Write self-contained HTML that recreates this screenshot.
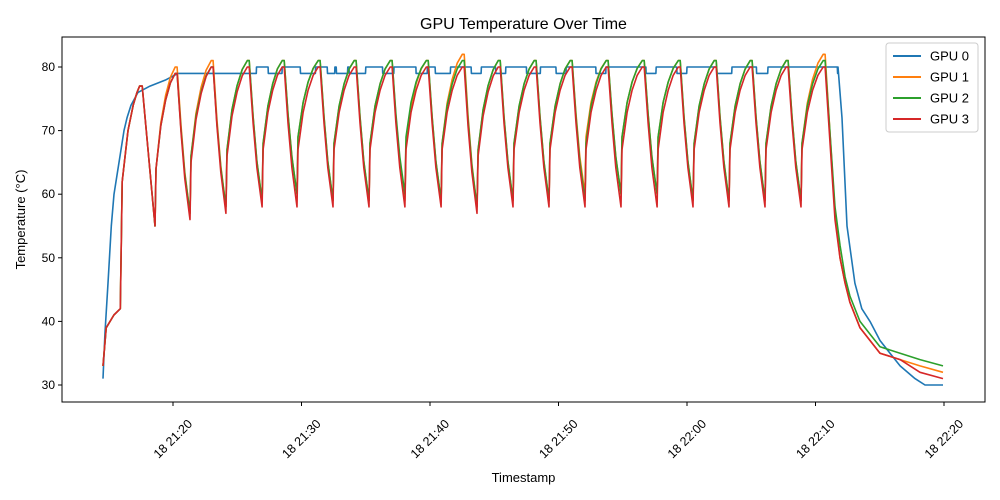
<!DOCTYPE html>
<html><head><meta charset="utf-8">
<style>
body{margin:0;background:#fff;}
svg{display:block;font-family:"Liberation Sans","DejaVu Sans",sans-serif;}
</style></head>
<body>
<svg id="chart" width="1000" height="500" viewBox="0 0 1000 500">
<rect x="0" y="0" width="1000" height="500" fill="#fff"/>
<text x="523.5" y="29" text-anchor="middle" font-size="16">GPU Temperature Over Time</text>
<g id="plot"></g>
<text x="523.5" y="482" text-anchor="middle" font-size="13">Timestamp</text>
<text x="25" y="219.5" text-anchor="middle" font-size="13" transform="rotate(-90 25 219.5)">Temperature (°C)</text>
</svg>
<script>
// ---- data (minutes after 21:00) ----
const seriesNames = ["GPU 0","GPU 1","GPU 2","GPU 3"];
const seriesColors = ["#1f77b4","#ff7f0e","#2ca02c","#d62728"];
const yTicks = [30,40,50,60,70,80];
const xTickMinutes = [20,30,40,50,60,70,80];
const xTickLabels = ["18 21:20","18 21:30","18 21:40","18 21:50","18 22:00","18 22:10","18 22:20"];

const gpu0Start = [[14.55,31],[14.7,38],[14.94,46],[15.2,55],[15.41,60],[15.64,63],[15.95,67],[16.19,70],[16.42,72],[16.73,74],[17.28,76],[18.21,77],[19.46,78],[20.39,79]];
const gpu0HighSegments = [[26.5,27.4],[28.5,29.9],[31.1,32.0],[32.6,32.7],[33.6,33.7],[35.0,36.3],[37.2,38.9],[39.8,40.4],[41.6,43.2],[44.0,45.1],[45.9,47.5],[48.6,49.8],[50.6,52.9],[53.7,56.8],[57.6,59.2],[60.0,62.3],[63.5,65.4],[66.3,71.7]];
const gpu0End = [[71.75,80],[72.06,72],[72.45,55],[73.07,46],[73.6,42],[74.24,40],[75.02,37],[75.8,35],[76.58,33],[77.74,31],[78.52,30],[79.92,30]];

const initStart = [[14.55,33],[14.8,39],[15.4,41],[15.9,42],[16.05,62],[16.5,70],[16.9,74],[17.2,76],[17.4,77],[17.6,77]];
const troughTimes = [18.6,21.32,24.12,26.93,29.65,32.45,35.25,38.05,40.86,43.66,46.46,49.26,52.06,54.86,57.67,60.47,63.27,66.07,68.87];
const finalPeakTime = 70.6;
const troughVals = [
  null,
  [55,57,58,59,60,59,59,59,59,58,59,59,60,60,60,59,59,59,59],
  [55,57,58,59,60,59,59,60,59,58,59,59,59,60,60,59,59,59,59],
  [55,56,57,58,58,58,58,58,58,57,58,58,58,58,58,58,58,58,58]
];
const peakVals = [
  null,
  [80,81,81,81,81,81,81,81,82,81,81,81,81,81,81,81,81,81,82],
  [79,80,81,81,81,81,81,81,81,81,81,81,81,81,81,81,81,81,81],
  [79,80,80,80,80,80,80,80,80,80,80,80,80,80,80,80,80,80,80]
];
const coolTimes = [71.52,71.91,72.3,72.68,73.46,74.24,75.02,76.58,78.13,79.92];
const coolVals = [
  null,
  [57,50,46,43,39,37,35,34,33,32],
  [58,52,47,44,40,38,36,35,34,33],
  [56,50,46,43,39,37,35,34,32,31]
];

// ---- axes ----
const L=62,R=985,T=37,B=402;
const xs = m => 173 + (m-20)*12.85;
const ys = v => 385 - (v-30)*6.36;
const NS="http://www.w3.org/2000/svg";
const plot=document.getElementById('plot');
function mk(tag,attrs,parent){const e=document.createElementNS(NS,tag);for(const k in attrs)e.setAttribute(k,attrs[k]);(parent||plot).appendChild(e);return e;}

function gpu0Points(){
  const pts=gpu0Start.slice();
  gpu0HighSegments.forEach(s=>{pts.push([s[0]-0.02,79],[s[0],80],[s[1],80],[s[1]+0.02,79]);});
  return pts.concat(gpu0End);
}
function cyclePoints(si){
  const pts=initStart.slice();
  const tv=troughVals[si], pv=peakVals[si];
  for(let i=0;i<troughTimes.length;i++){
    const t0=troughTimes[i], T0=tv[i], P=pv[i];
    pts.push([t0,T0]);
    const tp = i<troughTimes.length-1 ? troughTimes[i+1]-1.15 : finalPeakTime;
    const base=T0+9;
    pts.push([t0+0.08,base]);
    [[0.25,0.45],[0.5,0.72],[0.75,0.9],[1,1]].forEach(([f,g])=>pts.push([t0+0.08+f*(tp-t0-0.08), base+(P-base)*g]));
    pts.push([tp+0.15,P]);
    if(i<troughTimes.length-1){
      const tn=troughTimes[i+1], Tn=tv[i+1], fs=tp+0.15;
      [[0.3,0.4],[0.6,0.72]].forEach(([f,g])=>pts.push([fs+f*(tn-fs),P-(P-Tn)*g]));
    }
  }
  coolTimes.forEach((t,k)=>pts.push([t,coolVals[si][k]]));
  return pts;
}

mk('rect',{x:L,y:T,width:R-L,height:B-T,fill:'none',stroke:'#000','stroke-width':1});
yTicks.forEach(v=>{
  const y=ys(v);
  const tk=mk('line',{x1:L-4,x2:L,y1:y,y2:y,stroke:'#000'});
  
  
  const t=mk('text',{x:L-7,y:y+4,'text-anchor':'end','font-size':12});
  t.textContent=v;
  
  
});
xTickMinutes.forEach((m,i)=>{
  const x=xs(m);
  const tk=mk('line',{x1:x,x2:x,y1:B,y2:B+4,stroke:'#000'});
  
  
  const cy=B+37;
  const t=mk('text',{x:x,y:cy+4,'text-anchor':'middle','font-size':12.5,transform:`rotate(-45 ${x} ${cy})`});
  t.textContent=xTickLabels[i];
  
  
});

const allPts=[gpu0Points(),cyclePoints(1),cyclePoints(2),cyclePoints(3)];
allPts.forEach((pts,si)=>{
  const d=pts.map((p,k)=>(k?'L':'M')+xs(p[0]).toFixed(1)+','+ys(p[1]).toFixed(1)).join(' ');
  const path=mk('path',{d:d,fill:'none',stroke:seriesColors[si],'stroke-width':1.6,'stroke-linejoin':'round'});
  
  
});

const lg=mk('g',{});


mk('rect',{x:886,y:43,width:92,height:89,rx:3,fill:'#fff','fill-opacity':0.8,stroke:'#ccc'},lg);
seriesNames.forEach((n,i)=>{
  const y=56+i*21;
  const e=mk('g',{},lg);
  
  
  mk('line',{x1:893,x2:921,y1:y,y2:y,stroke:seriesColors[i],'stroke-width':2},e);
  const t=mk('text',{x:930,y:y+4.5,'font-size':13},e);
  t.textContent=n;
});
</script>
</body></html>
